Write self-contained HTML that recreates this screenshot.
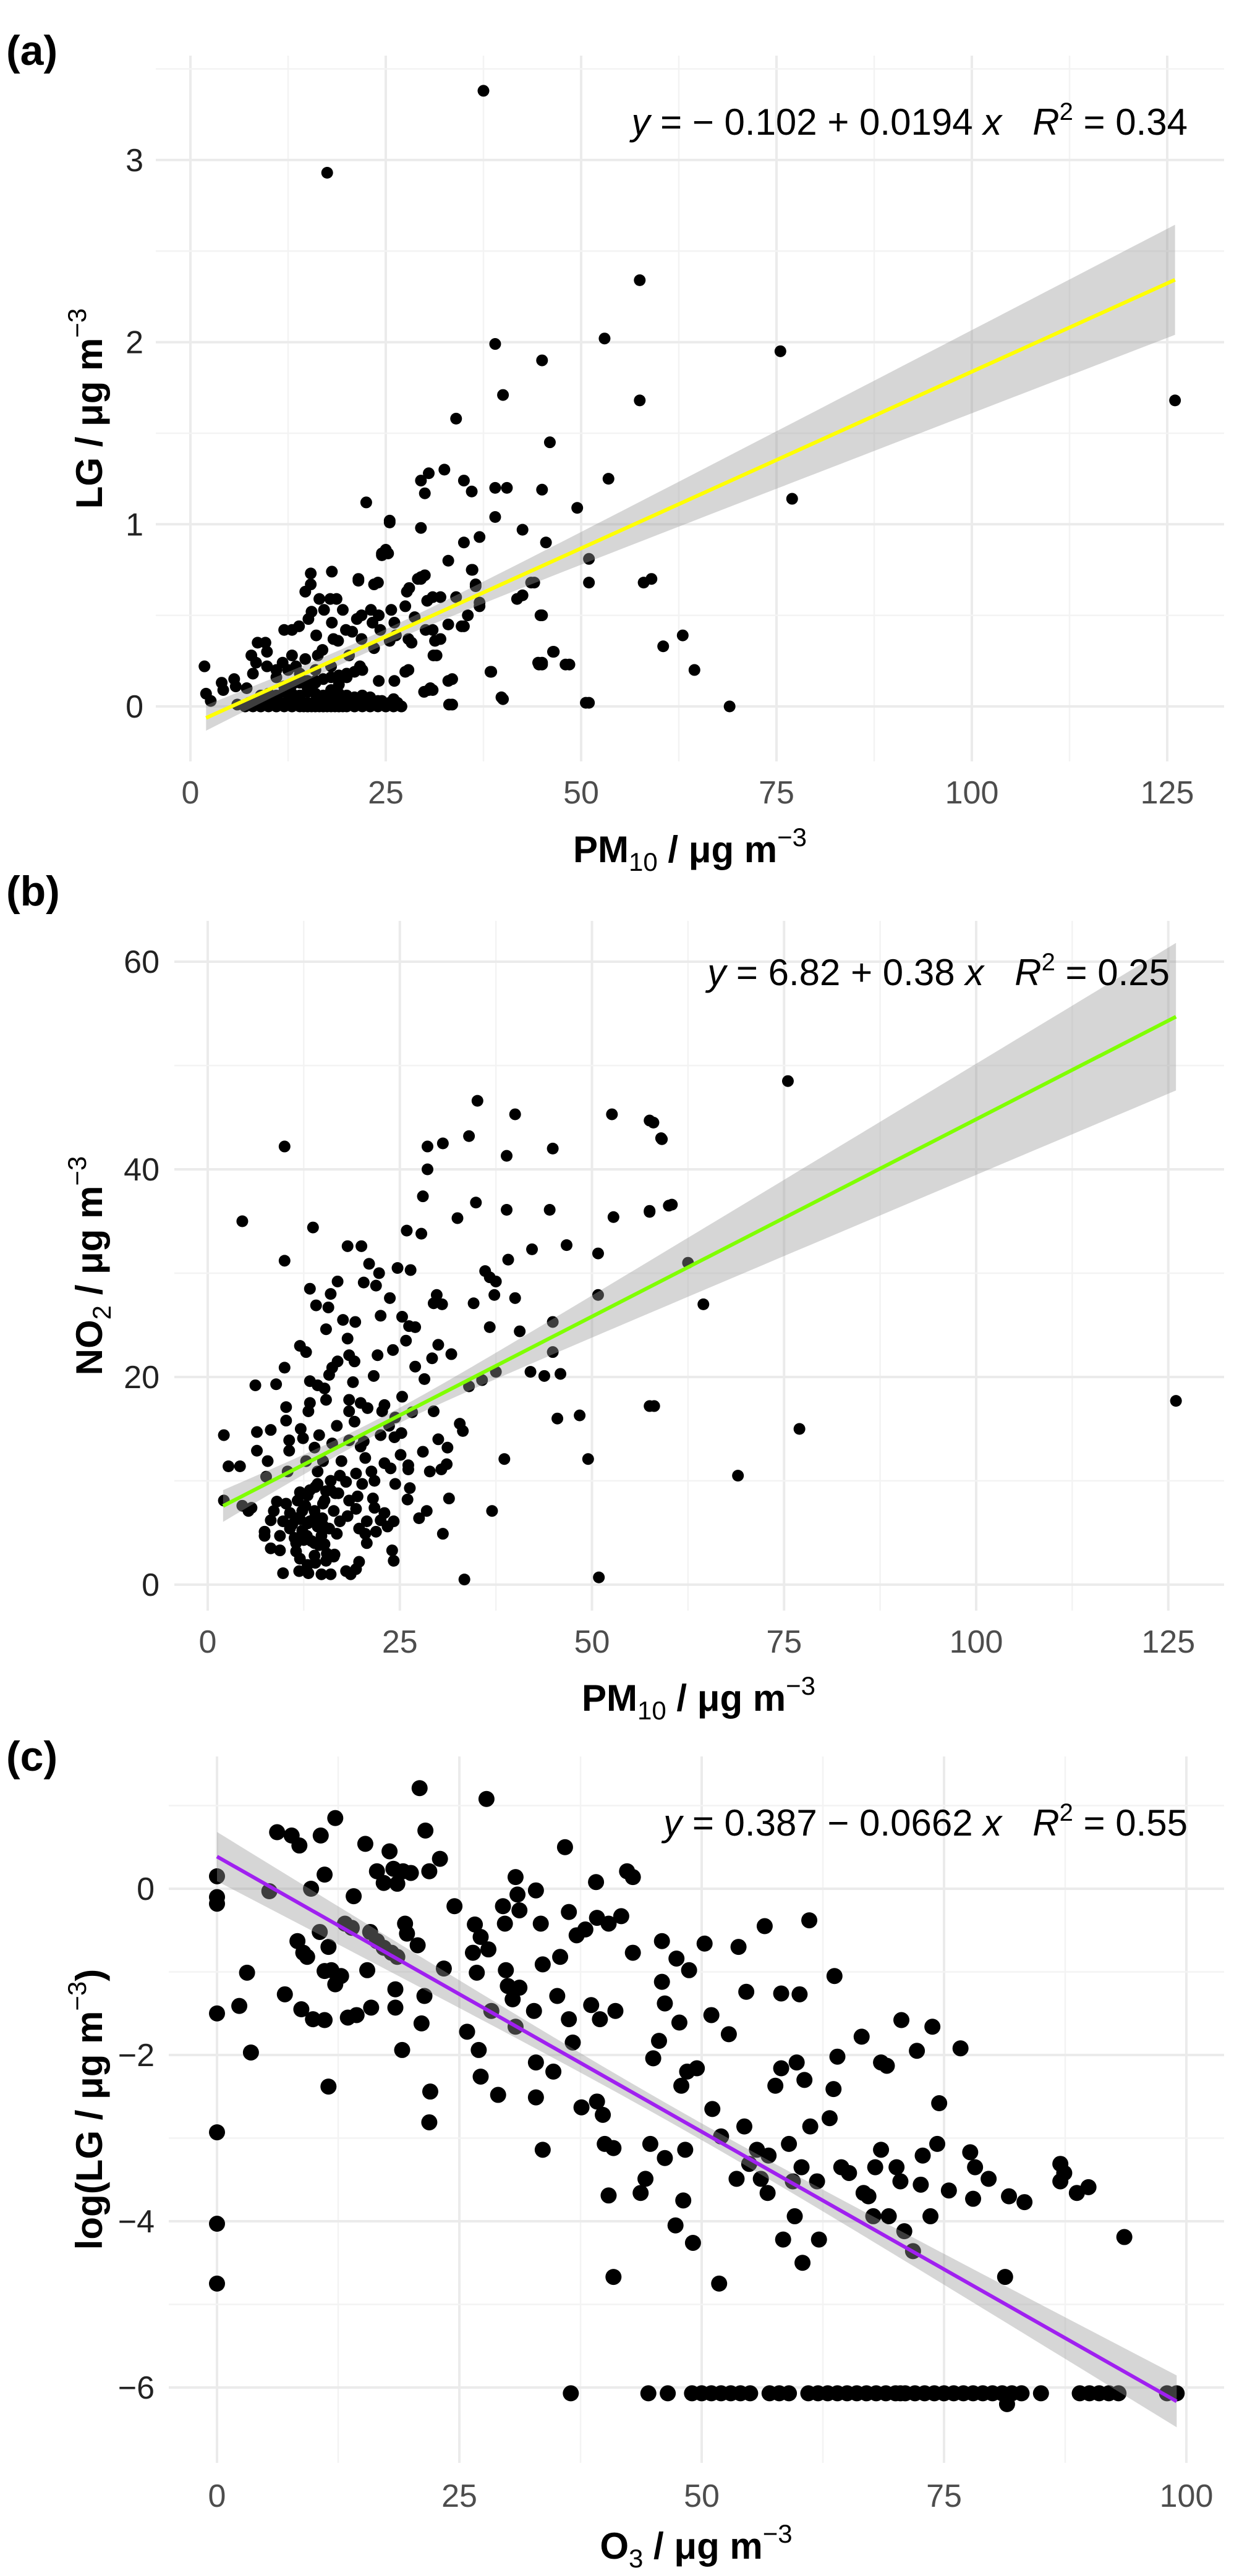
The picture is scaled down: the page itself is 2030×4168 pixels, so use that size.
<!DOCTYPE html>
<html><head><meta charset="utf-8">
<style>
html,body{margin:0;padding:0;background:#fff;}
svg{display:block;}
text{font-family:"Liberation Sans","DejaVu Sans",sans-serif;}
</style></head>
<body>
<svg id="fig" width="2030" height="4168" viewBox="0 0 2030 4168" xmlns="http://www.w3.org/2000/svg">
<rect width="2030" height="4168" fill="#fff"/>
</svg>
<script>
// ---------- Panel A data: PM10 vs LG ----------
const aX = [37.5,17.5,57.5,53,39,45,75.5,57.5,126,40,34,46,32.5,30.5,29.5,35,36,39,40.5,45,53.5,22.5,30,49.5,77,25.5,39,29.5,42.5,37,35,45.5,25,24.5,33,51,36,30,29.5,44,51,59,58,21.5,24,28,36.5,34,31,32,42.5,37,45,35,33,31,32,60.5,63,46.5,31.5,45,44.5,48.5,38.5,64.5,27.5,33.5,31,30.5,40,33.5,51,69,
1.8,2,2.6,4,4.2,5.6,5.8,7.2,7.8,8,8.6,9.6,9.8,8.4,9.8,11,11.8,12,13,13.9,13,13.5,14.7,15.1,15.5,14.7,15.4,15.4,16.1,16.3,16.5,17.1,16.9,18.1,17.9,18.1,18.3,18.7,18.9,19.5,19.9,20.3,20.7,21.5,21.3,21.7,21.9,21.9,23.1,23.5,23.3,23.5,24.1,24.1,24.3,24.5,25.3,25.5,25.5,25.7,26.1,26.1,26.3,27.5,27.7,27.9,27.9,28.3,28.7,29.1,29.5,29.9,30.1,30.3,30.7,31.3,31.1,33,33.1,35.5,34.7,36.1,36.5,37,38.4,39.8,41.8,43.6,44.8,45,44.6,46.4,48,50.6,
7,8,9,10,11,12,13,14,14.5,15,15.5,16,16.5,17,17.5,18,18.5,19,19.5,20,21,22,23,24,25,26,27,
10,12,13,14,15,16,17,18,19,20,11,12.5,14,16,18,20,22,24,26,
7.5,8.5,9.5,10.5,11.5,12.5,13.5,15,16,17,18,19,20.5,21.5,22.5,23.5,24.5,25.5,26.5,
9,10,11,12,13,14,15,16,17,18,19,20,21,23,
6,7,8,9,10,11,12,13,14,15,16,17,18,19,20,21,22,23,24,25,26,27,
12,13,14,15,16,17,18,19,20,21,22];
const aY = [3.38,2.93,2.34,2.02,1.99,1.90,1.95,1.68,1.68,1.71,1.58,1.45,1.30,1.28,1.24,1.24,1.18,1.20,1.20,1.19,1.25,1.12,1.17,1.09,1.14,1.02,1.04,0.98,0.97,0.93,0.90,0.90,0.86,0.84,0.80,0.81,0.75,0.72,0.70,0.68,0.68,0.70,0.68,0.70,0.68,0.65,0.67,0.60,0.60,0.60,0.61,0.57,0.50,0.44,0.45,0.42,0.37,0.33,0.39,0.30,0.28,0.24,0.24,0.23,0.19,0.20,0.19,0.15,0.09,0.09,0.04,0.01,0.02,0.0,
0.22,0.07,0.03,0.13,0.09,0.15,0.11,0.1,0.28,0.18,0.35,0.35,0.3,0.24,0.22,0.2,0.24,0.42,0.42,0.44,0.28,0.22,0.26,0.48,0.52,0.63,0.67,0.73,0.39,0.28,0.59,0.53,0.31,0.74,0.59,0.46,0.37,0.59,0.36,0.53,0.42,0.28,0.41,0.69,0.48,0.22,0.5,0.37,0.53,0.67,0.46,0.32,0.5,0.14,0.42,0.83,0.84,1.01,0.36,0.53,0.46,0.14,0.39,0.55,0.63,0.37,0.2,0.35,0.49,0.7,0.71,0.08,0.42,0.58,0.1,0.36,0.28,0.14,0.01,0.5,0.44,0.75,0.66,0.55,0.19,0.05,0.59,0.68,0.5,0.23,0.23,0.3,0.23,0.02,
0,0,0,0,0,0,0,0,0,0,0,0,0,0,0,0,0,0,0,0,0,0,0,0,0,0,0,
0.05,0.08,0.12,0.06,0.1,0.14,0.05,0.09,0.12,0.04,0.16,0.2,0.18,0.2,0.22,0.16,0.06,0.03,0.04,
0.02,0.03,0.02,0.03,0.02,0.03,0.02,0.02,0.03,0.02,0.03,0.02,0.02,0.03,0.02,0.02,0.03,0.02,0.02,
0.06,0.07,0.06,0.08,0.07,0.06,0.08,0.07,0.06,0.08,0.07,0.06,0.05,0.05,
0.01,0.0,0.01,0.0,0.01,0.0,0.01,0.0,0.01,0.0,0.01,0.0,0.01,0.0,0.01,0.0,0.01,0.0,0.01,0.0,0.01,0.0,
0.11,0.12,0.13,0.14,0.13,0.15,0.16,0.17,0.18,0.19,0.2];
const aFit = [-0.102, 0.0194];
const aXTicks = [0,25,50,75,100,125];
const aYTicks = [0,1,2,3];

// ---------- Panel B data: PM10 vs NO2 ----------
const bX = [35.1,40,52.6,57.5,59.1,10,28.6,30.6,34,38.9,44.9,28.6,28,34.9,38.9,44.5,52.8,57.5,60.4,4.5,13.7,32.5,25.9,27.8,18.2,20,10,42.2,46.7,50.8,39.1,21,22.3,24.7,26.4,36.1,37.5,36.7,16.9,20.3,21.9,13.3,16,23.7,29.8,37.3,40,50.8,34.6,29.4,30.5,14.1,15.7,22.5,25.3,17.6,19.2,26.2,27,44.9,36.7,40.6,15.4,18.2,25.8,12,12.8,22.1,24.1,30,31.7,44.9,29.2,18.4,19.1,16.9,27,10,16.2,42,43.8,45.9,37.5,15.8,21.6,35.7,34,28.2,6.2,8.9,13.3,18.9,14.3,15.2,25.3,15.4,18.4,19.9,13.3,23,58.1,10.2,20.8,13.1,18.4,22.7,26.6,29.4,24.4,48.4,45.5,10.2,19.1,32.8,16.8,23.6,12.1,33.2,6.4,8.2,2.1,14.5,22.5,24.3,25.2,12.4,10.6,18.4,30,20.3,19.9,13.9,16.2,31.2,6.4,10.6,28,25.1,20.5,38.6,49.5,7.8,12.8,15,17.4,23,31.1,2.7,4.2,26.1,23.8,26.1,30.4,28.9,14.3,21.3,19.3,7.6,10.4,17.2,16,18,20.1,21.7,14.3,24.4,26.3,13.3,15.4,16.6,2.1,4.5,5.7,9,10.2,11.7,12.7,15.2,18.4,19.5,21.5,26,31.4,5.3,8.6,10.7,12.3,13.9,16.4,19.3,21.7,23,28.5,37,8.2,9.8,11.5,13.3,14.9,17.2,18.2,20.7,22.5,27.5,24.2,10.7,12.3,14.3,15.8,19.7,23.4,7.4,9.4,11.3,12.9,14.8,16.8,20.5,21.9,30.6,7.4,11.5,15.2,13.9,20.7,8.2,9.4,13.9,15.4,16.4,19.7,24,24.2,9.8,11.9,13.1,14.8,16,18,19.3,18.6,33.4,50.9,
62.5,64.5,75.5,77,69,126,58,59,57.5,60,57.5,
11,12,13,14,15,12.5,13.5,14.5,11.5,12,13,14,16,17,15.5,16.5,12,13,14,15];
const bY = [46.6,45.3,45.3,44.7,42.9,42.2,42.2,42.5,43.2,41.3,42,40,37.4,36.8,36.1,36.1,35.4,35.9,36.6,35,34.4,35.3,34.1,33.8,32.6,32.6,31.2,32.3,32.7,31.9,31.3,30.9,30,30.5,30.3,30.2,29.2,29.6,29.2,29.1,28.8,28.5,28,27.6,27.9,27.9,27.6,27.9,27.1,27.1,27,26.9,26.7,25.9,25.8,25.5,25.3,24.9,24.8,25.3,24.8,24.4,24.6,23.7,23.5,23,22.4,22.1,22.6,23.1,22.2,22.4,21.8,22.1,21.5,21.5,21,20.9,20.9,20.5,20.1,20.3,20.5,20.2,20.1,19.7,19.1,19.8,19.2,19.3,19.6,19.5,19.2,18.9,18.1,17.8,17.8,17.5,17.5,17.3,17.2,17.1,17,16.7,16.7,16.7,16.6,16.7,16.1,16.3,16,15.8,15.7,15.5,15.3,15.3,15,14.8,14.7,14.9,14.4,14.4,14.4,14.2,14.6,14.1,13.9,13.9,14,13.8,13.3,13.2,13.6,13.2,12.9,12.9,12.8,12.5,12.2,12.1,12.1,11.9,11.9,11.9,11.9,11.7,11.6,11.4,11.4,11.5,11.2,11.1,11.1,10.9,10.9,10.9,10.7,10.4,10.9,10.5,10,9.9,9.7,10,9.7,9.7,9.3,9.1,9,8.8,8.1,7.6,7.4,8,7.8,8.1,7.6,8.1,8.1,8.5,8.3,8.2,8.3,7.1,7.1,6.9,7.1,7.1,7.1,7.3,7.4,6.9,7.1,7.1,6.2,6.1,6.4,6.1,6.4,6.1,6.6,6.1,6.2,6.4,6.1,5.4,5.2,5.6,5.4,5.4,5.6,5.1,4.7,4.5,4.7,4.7,4.9,4.9,5.1,4.9,4.7,4,3.9,4,4,3.5,3.3,2.8,2.3,2.7,2.2,3.3,2.3,1.1,1.3,1.1,1,1,1.3,1.5,1,0.5,0.7,
31,27,48.5,15,10.5,17.7,44.5,43,36,36.5,17.2,
5.8,6.3,5.9,6.6,5.7,4.3,4.2,3.8,3.2,8.9,8.6,9.4,9.1,8.8,3.0,2.9,2.5,1.9,2.1,7.8];
const bFit = [6.82, 0.38];
const bXTicks = [0,25,50,75,100,125];
const bYTicks = [0,20,40,60];

// ---------- Panel C data: O3 vs log(LG) ----------
const cX = [0,0,0,0,0,0,0,2.3,3.1,3.5,5.4,6.2,7,7.7,8.5,8.3,8.9,9.3,8.7,9.7,9.9,10.7,11.1,10.6,11.1,11.5,11.1,11.5,12.2,11.8,12.2,12.8,13.2,14.1,13.9,13.5,14.4,15.3,15.5,15.8,15.9,16.5,17.2,17.8,18.2,18.6,19.2,20,16.5,17.2,18,18.6,19.4,19.6,18.4,18.4,19.1,20.9,21.5,21.9,23,20.7,21.4,21.1,22,21.9,23.4,24.5,25.8,26.4,26.6,26.8,27.2,27.8,27.2,27,28,28.3,29,29.5,29.7,29.8,30,30.5,30.8,31,31.2,31.2,30.8,32.9,32.9,32.9,32.7,33.4,33.6,33.6,34.7,35.1,35.4,35.9,36.3,36.3,36.7,37.1,37.6,38,38.6,39.1,39.2,39.2,39.5,39.8,40,40.4,40.4,40.9,41.1,40.9,41.7,42.3,42.9,42.9,43.7,44.2,44.7,45,45.6,45.9,45.9,46.2,46.2,47.3,47.4,47.7,47.9,48.1,48.3,48.5,48.7,49.1,49.5,50.3,51,51.1,51.8,52,52.8,53.6,53.8,54.4,54.6,54.9,55.7,56.1,56.5,56.8,56.9,57.6,58.2,58.2,58.4,59,59.4,59.6,59.8,60.1,60.3,60.4,60.6,61.1,61.2,61.9,62.1,63.2,63.6,63.7,64,64.4,65.2,66.5,66.7,67.2,67.7,67.9,68.5,68.5,69.1,69.3,70.1,70.5,70.6,70.9,71.8,72.2,72.6,72.8,73.6,73.8,74.3,74.5,75.5,76.7,77.7,78.2,78,79.6,81.3,81.7,83.3,87,87.4,87,88.7,89.9,93.6,
36.5,44.5,46.5,49,50,51,52,53,54,55,57,58,59,61,62,63,64,65,66,67,68,69,70,70.5,71,72,73,74,75,76,77,78,79,80,81,82,83,85,89,90,91,92,93,98,99,81.5];
const cY = [0.15,-0.1,-0.18,-1.5,-2.93,-4.03,-4.75,-1.41,-1.01,-1.97,-0.03,0.68,-1.27,0.64,0.52,-0.63,-0.77,-0.82,-1.45,0,-1.57,0.64,0.17,-0.52,-0.99,-0.7,-1.58,-2.38,0.85,-0.98,-1.15,-1.05,-0.42,-0.09,-0.47,-1.55,-1.52,0.54,-0.98,-0.52,-1.43,0.21,0.07,0.45,0.24,0.06,0.21,0.19,-0.63,-0.71,-0.77,-0.82,-0.42,-0.54,-1.21,-1.43,-1.94,1.21,0.7,0.21,0.36,-0.68,-1.29,-1.62,-2.44,-2.81,-0.96,-0.21,-1.72,-0.77,-0.43,-1.01,-0.58,1.08,-2.26,-1.94,-0.73,-1.47,-2.48,-0.21,-0.42,-0.98,-1.17,-1.33,0.14,-0.07,-0.26,-1.19,-1.66,-0.02,-2.09,-2.51,-1.47,-0.42,-3.14,-0.91,-2.2,-1.29,-0.82,0.5,-0.28,-1.57,-1.85,-0.56,-2.63,-0.49,-1.4,0.08,-0.35,-2.56,-1.57,-2.72,-3.07,-0.42,-3.69,-4.67,-1.47,-3.12,-0.33,0.21,0.14,-0.77,-3.66,-3.49,-3.07,-2.04,-1.83,-0.63,-1.12,-1.38,-3.24,-4.05,-0.84,-1.61,-2.37,-3.75,-3.14,-2.2,-0.98,-4.26,-2.16,-0.66,-1.52,-2.65,-4.75,-2.98,-1.75,-3.49,-0.7,-2.86,-1.24,-3.31,-3.14,-3.49,-0.45,-3.66,-3.21,-2.37,-2.16,-1.26,-4.22,-3.07,-3.52,-3.94,-2.09,-1.27,-3.35,-4.5,-2.3,-0.38,-2.86,-3.52,-4.22,-2.76,-2.41,-1.05,-2.02,-3.35,-3.42,-1.78,-3.66,-3.7,-3.94,-3.35,-3.14,-2.09,-2.13,-3.94,-3.35,-3.52,-1.58,-4.12,-4.36,-1.95,-3.56,-3.21,-3.94,-1.66,-3.07,-2.58,-3.63,-1.92,-3.17,-3.35,-3.73,-3.49,-4.67,-3.7,-3.77,-3.31,-3.42,-3.52,-3.66,-3.59,-4.19,
-6.07,-6.07,-6.07,-6.07,-6.07,-6.07,-6.07,-6.07,-6.07,-6.07,-6.07,-6.07,-6.07,-6.07,-6.07,-6.07,-6.07,-6.07,-6.07,-6.07,-6.07,-6.07,-6.07,-6.07,-6.07,-6.07,-6.07,-6.07,-6.07,-6.07,-6.07,-6.07,-6.07,-6.07,-6.07,-6.07,-6.07,-6.07,-6.07,-6.07,-6.07,-6.07,-6.07,-6.07,-6.07,-6.2];
const cFit = [0.387, -0.0662];
const cXTicks = [0,25,50,75,100];
const cYTicks = [0,-2,-4,-6];

const NS = 'http://www.w3.org/2000/svg';
const svg = document.getElementById('fig');
function mk(tag, attrs, parent){
  const e = document.createElementNS(NS, tag);
  for (const k in attrs) e.setAttribute(k, attrs[k]);
  (parent||svg).appendChild(e);
  return e;
}

function panel(cfg){
  const g = mk('g', {});
  
  
  const sx = v => cfg.x0 + v*cfg.kx;
  const sy = v => cfg.y0 - v*cfg.ky;
  const grid = mk('g', {}, g);
  
  
  const xs = cfg.xTicks, ys = cfg.yTicks;
  const dx = xs[1]-xs[0], dy = Math.abs(ys[1]-ys[0]);
  const ymin = Math.min(...ys), ymax = Math.max(...ys);
  for (let v = xs[0]-dx/2; v <= xs[xs.length-1]+dx/2+1e-9; v += dx/2){
    const X = sx(v);
    if (X < cfg.left || X > cfg.right) continue;
    const major = Math.abs((v - xs[0]) / dx - Math.round((v - xs[0]) / dx)) < 1e-6;
    mk('line', {x1:X, x2:X, y1:cfg.top, y2:cfg.bottom, stroke: major?'#ebebeb':'#f3f3f3', 'stroke-width': major?4:2.5}, grid);
  }
  for (let v = ymin-dy; v <= ymax+dy+1e-9; v += dy/2){
    const Y = sy(v);
    if (Y < cfg.top || Y > cfg.bottom) continue;
    const major = Math.abs((v - ymin) / dy - Math.round((v - ymin) / dy)) < 1e-6;
    mk('line', {x1:cfg.left, x2:cfg.right, y1:Y, y2:Y, stroke: major?'#ebebeb':'#f3f3f3', 'stroke-width': major?4:2.5}, grid);
  }
  xs.forEach(v => {
    const t = mk('text', {x:sx(v), y:cfg.xLabY, 'text-anchor':'middle', 'font-size':52, fill:'#4d4d4d'}, g);
    t.textContent = String(v);
    
    
  });
  ys.forEach(v => {
    const t = mk('text', {x:cfg.yLabX, y:sy(v)+18, 'text-anchor':'end', 'font-size':52, fill:'#222'}, g);
    t.textContent = (v<0 ? '\u2212' + Math.abs(v) : String(v));
    
    
  });
  const pts = mk('g', {}, g);
  
  
  for (let i=0;i<cfg.X.length;i++){
    const c = mk('circle', {cx:sx(cfg.X[i]), cy:sy(cfg.Y[i]), r:cfg.r, fill:'#000'}, pts);
    
    
  }
  const n = 60, up=[], lo=[];
  for (let i=0;i<=n;i++){
    const x = cfg.fx0 + (cfg.fx1-cfg.fx0)*i/n;
    const yh = cfg.fit[0] + cfg.fit[1]*x;
    const h = Math.sqrt(cfg.sa*cfg.sa + Math.pow(cfg.sb*(x-cfg.xbar),2));
    up.push(sx(x)+','+sy(yh+h));
    lo.unshift(sx(x)+','+sy(yh-h));
  }
  const rib = mk('polygon', {points: up.concat(lo).join(' '), fill:'#999999', 'fill-opacity':0.4}, g);
  
  
  const ln = mk('line', {x1:sx(cfg.fx0), y1:sy(cfg.fit[0]+cfg.fit[1]*cfg.fx0), x2:sx(cfg.fx1), y2:sy(cfg.fit[0]+cfg.fit[1]*cfg.fx1), stroke:cfg.color, 'stroke-width':6}, g);
  
  
  return g;
}

panel({name:'panel-a', X:aX, Y:aY, fit:aFit, xTicks:aXTicks, yTicks:aYTicks,
  x0:308, kx:12.64, y0:1143, ky:294.7, left:252, right:1980, top:90, bottom:1232,
  xLabY:1300, yLabX:232, r:9.5, fx0:2, fx1:126, xbar:22, sa:0.04, sb:0.00288, color:'#ffff00'});
panel({name:'panel-b', X:bX, Y:bY, fit:bFit, xTicks:bXTicks, yTicks:bYTicks,
  x0:336, kx:12.43, y0:2564, ky:16.8, left:282, right:1980, top:1490, bottom:2606,
  xLabY:2674, yLabX:258, r:9.5, fx0:2, fx1:126, xbar:22, sa:0.7, sb:0.068, color:'#7fff00'});
panel({name:'panel-c', X:cX, Y:cY, fit:cFit, xTicks:cXTicks, yTicks:cYTicks,
  x0:351, kx:15.68, y0:3056, ky:134.5, left:273, right:1980, top:2842, bottom:3985,
  xLabY:4056, yLabX:250, r:13, fx0:0, fx1:99, xbar:48, sa:0.1, sb:0.0058, color:'#a020f0'});
</script>
<svg style="position:absolute;left:0;top:0" width="2030" height="4168" xmlns="http://www.w3.org/2000/svg">
  <g font-family="Liberation Sans, sans-serif">
    <text x="10" y="105" font-size="68" font-weight="bold">(a)</text>
    <text x="10" y="1465" font-size="68" font-weight="bold">(b)</text>
    <text x="10" y="2865" font-size="68" font-weight="bold">(c)</text>

    <text x="1921" y="218" font-size="60" text-anchor="end"><tspan font-style="italic">y</tspan> = − 0.102 + 0.0194 <tspan font-style="italic">x</tspan><tspan dx="50" font-style="italic">R</tspan><tspan dy="-24" font-size="40">2</tspan><tspan dy="24"> = 0.34</tspan></text>
    <text x="1892" y="1594" font-size="60" text-anchor="end"><tspan font-style="italic">y</tspan> = 6.82 + 0.38 <tspan font-style="italic">x</tspan><tspan dx="50" font-style="italic">R</tspan><tspan dy="-24" font-size="40">2</tspan><tspan dy="24"> = 0.25</tspan></text>
    <text x="1921" y="2970" font-size="60" text-anchor="end"><tspan font-style="italic">y</tspan> = 0.387 − 0.0662 <tspan font-style="italic">x</tspan><tspan dx="50" font-style="italic">R</tspan><tspan dy="-24" font-size="40">2</tspan><tspan dy="24"> = 0.55</tspan></text>

    <text x="1116" y="1395" font-size="60" font-weight="bold" text-anchor="middle">PM<tspan dy="14" font-size="42" font-weight="normal">10</tspan><tspan dy="-14"> / μg m</tspan><tspan dy="-26" font-size="42" font-weight="normal">−3</tspan></text>
    <text x="1130" y="2768" font-size="60" font-weight="bold" text-anchor="middle">PM<tspan dy="14" font-size="42" font-weight="normal">10</tspan><tspan dy="-14"> / μg m</tspan><tspan dy="-26" font-size="42" font-weight="normal">−3</tspan></text>
    <text x="1126" y="4140" font-size="60" font-weight="bold" text-anchor="middle">O<tspan dy="14" font-size="42" font-weight="normal">3</tspan><tspan dy="-14"> / μg m</tspan><tspan dy="-26" font-size="42" font-weight="normal">−3</tspan></text>

    <text transform="translate(165,661) rotate(-90)" font-size="60" font-weight="bold" text-anchor="middle">LG / μg m<tspan dy="-26" font-size="42" font-weight="normal">−3</tspan></text>
    <text transform="translate(165,2048) rotate(-90)" font-size="60" font-weight="bold" text-anchor="middle">NO<tspan dy="14" font-size="42" font-weight="normal">2</tspan><tspan dy="-14"> / μg m</tspan><tspan dy="-26" font-size="42" font-weight="normal">−3</tspan></text>
    <text transform="translate(165,3413) rotate(-90)" font-size="60" font-weight="bold" text-anchor="middle">log(LG / μg m<tspan dy="-26" font-size="42" font-weight="normal">−3</tspan><tspan dy="26">)</tspan></text>
  </g>
</svg>
</body></html>
